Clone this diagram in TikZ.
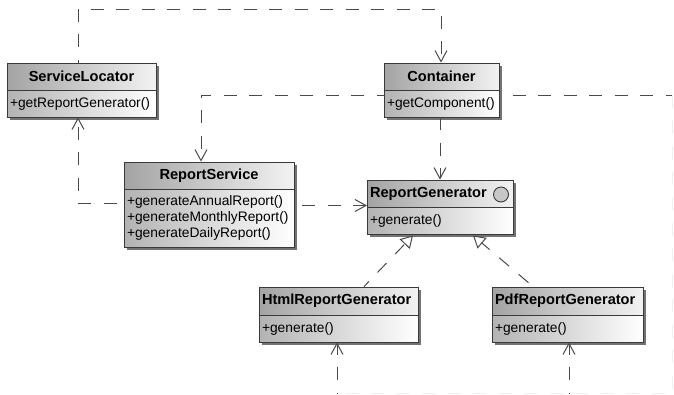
\documentclass[tikz,border=0pt]{standalone}
\usepackage{fontspec}
\setmainfont{Liberation Sans}
\usepackage{amsmath}
\usetikzlibrary{arrows, arrows.meta}
\usetikzlibrary{calc}
\usetikzlibrary{shadows}
\definecolor{umlline}{HTML}{3A3A3A}
\definecolor{dashline}{HTML}{4A4A4A}
\tikzset{
  classbox/.style={draw=umlline, line width=0.9pt, inner sep=0pt,
    drop shadow={shadow xshift=2.5pt, shadow yshift=-2.5pt, fill=black!55, opacity=1}},
  titlebox/.style={classbox, left color=black!36, right color=black!5, font=\bfseries\fontsize{14.6}{16}\selectfont},
  memberbox/.style={classbox, left color=black!30, right color=white, align=left, font=\fontsize{13.8}{15.6}\selectfont},
  dashedline/.style={draw=dashline, line width=1pt, dash pattern=on 13pt off 12.5pt},
  depend/.style={dashedline,
    -{Straight Barb[length=11pt, width=12pt, line width=1pt]}},
  trace/.style={dashedline},
  fainttrace/.style={draw=black!6, line width=1pt, dash pattern=on 13pt off 12.5pt},
  realize/.style={dashedline,
    -{Triangle[open, fill=white, length=12pt, width=14pt, line width=1pt]}}
}
\begin{document}
\begin{tikzpicture}[x=1pt, y=-1pt]
    \useasboundingbox (0, 0) rectangle (674, 394);

    % classes
    \node[titlebox, minimum width=149pt, minimum height=27pt] (locatorTitle) at (81.5, 76.5) {ServiceLocator};
    \node[memberbox, minimum width=149pt, minimum height=27pt, text width=143pt] (locatorBody) at (81.5, 103.5) {+getReportGenerator()};

    \node[titlebox, minimum width=115pt, minimum height=27pt] (containerTitle) at (441.5, 76.5) {Container};
    \node[memberbox, minimum width=115pt, minimum height=27pt, text width=109pt] (containerBody) at (441.5, 103.5) {+getComponent()};

    \node[titlebox, minimum width=170pt, minimum height=27pt] (serviceTitle) at (209, 175.5) {ReportService};
    \node[memberbox, minimum width=170pt, minimum height=58pt, text width=164pt] (serviceBody) at (209, 218) {+generateAnnualReport()\\+generateMonthlyReport()\\+generateDailyReport()\\[3pt]};

    \node[titlebox, minimum width=146pt, minimum height=27pt, text width=140pt, align=left] (generatorTitle) at (440, 193.5) {ReportGenerator};
    \node[memberbox, minimum width=146pt, minimum height=27pt, text width=140pt] (generatorBody) at (440, 220.5) {+generate()};
    \node[circle, draw=umlline, line width=0.9pt, fill=black!22, inner sep=0pt, minimum size=15pt] (generatorIcon) at (501, 194.5) {};

    \node[titlebox, minimum width=159pt, minimum height=28pt, text width=153pt, align=left] (htmlTitle) at (338.5, 301) {HtmlReportGenerator};
    \node[memberbox, minimum width=159pt, minimum height=27pt, text width=153pt] (htmlBody) at (338.5, 328.5) {+generate()};

    \node[titlebox, minimum width=151pt, minimum height=28pt, text width=145pt, align=left] (pdfTitle) at (567.5, 301) {PdfReportGenerator};
    \node[memberbox, minimum width=151pt, minimum height=27pt, text width=145pt] (pdfBody) at (567.5, 328.5) {+generate()};

    % bends and free ends
    \coordinate (topLeft) at (78, 9);
    \coordinate (topRight) at (441, 9);
    \coordinate (serviceBend) at (201, 95);
    \coordinate (cornerRight) at (672.5, 95);
    \coordinate (cornerLow) at (672.5, 393);
    \coordinate (htmlLow) at (337, 393);
    \coordinate (pdfLow) at (569, 393);
    \coordinate (locatorBend) at (78, 203);
    \coordinate (generatorIn) at (367, 205.5);

    % dependencies
    \draw[depend, dash phase=10pt] (locatorTitle.north -| topLeft) -- (topLeft) -- (topRight) -- (containerTitle.north -| topRight);
    \draw[depend, dash phase=6pt] (containerBody.north west |- serviceBend) -- (serviceBend) -- (serviceTitle.north -| serviceBend);
    \draw[depend] (containerBody.south -| generatorTitle.north) -- (generatorTitle.north);
    \draw[depend, dash phase=18.5pt] (serviceBody.west |- locatorBend) -- (locatorBend) -- (locatorBody.south -| locatorBend);
    \draw[depend, dash phase=17.5pt] (serviceBody.east |- generatorIn) -- (generatorIn);
    \draw[trace, dash phase=12pt] (containerBody.north east |- cornerRight) -- (cornerRight);
    \draw[fainttrace] (cornerRight) -- (cornerLow) -- (htmlLow);
    \draw[depend, dash phase=12.5pt] (htmlLow) -- (htmlBody.south -| htmlLow);
    \draw[depend, dash phase=12.5pt] (pdfLow) -- (pdfBody.south -| pdfLow);

    % realizations
    \draw[realize, dash phase=6pt] ($(htmlTitle.north) + (25.5, 0)$) -- ($(generatorBody.south) + (-27, 1)$);
    \draw[realize, dash phase=19.5pt] ($(pdfTitle.north) + (-34.5, 0)$) -- ($(generatorBody.south) + (33, 1)$);
\end{tikzpicture}
\end{document}
